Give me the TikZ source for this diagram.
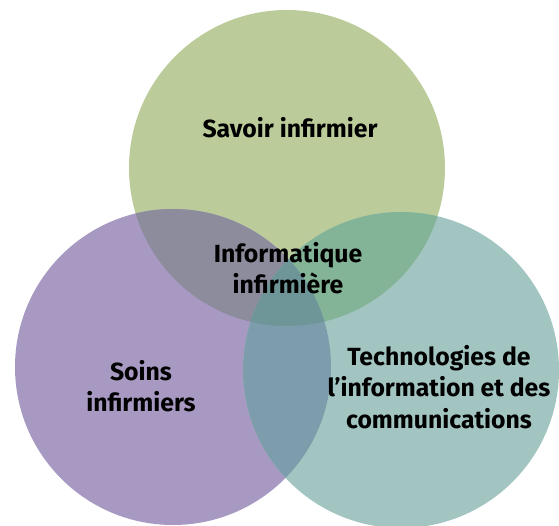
\documentclass[tikz,border=0pt]{standalone}
\usepackage{fontspec}
\setmainfont{Fira Sans}
\usepackage{xcolor}
\usepackage{tikz}
\usetikzlibrary{calc}

\definecolor{savoir}{HTML}{BBCC9A}
\definecolor{soins}{HTML}{A899C3}
\definecolor{tic}{HTML}{A2C5C1}
\definecolor{savoirsoins}{HTML}{8C8C9D}
\definecolor{savoirtic}{HTML}{84B498}
\definecolor{soinstic}{HTML}{7D9DAD}
\definecolor{centre}{HTML}{6E9598}

\begin{document}
\begin{tikzpicture}[x=1pt, y=1pt,
    label/.style = {align=center, font=\bfseries\fontsize{24.8}{31.5}\selectfont, inner sep=0pt}]
            \useasboundingbox (0,0) rectangle (559,525);
            \def\rayon{158}
            \coordinate (s) at (287,357);
            \coordinate (p) at (173,158);
            \coordinate (t) at (401,155);
            \fill[savoir] (s) circle (\rayon);
            \fill[soins] (p) circle (\rayon);
            \fill[tic] (t) circle (\rayon);
            \begin{scope}
              \clip (s) circle (\rayon);
              \fill[savoirsoins] (p) circle (\rayon);
              \fill[savoirtic] (t) circle (\rayon);
            \end{scope}
            \begin{scope}
              \clip (p) circle (\rayon);
              \fill[soinstic] (t) circle (\rayon);
              \clip (s) circle (\rayon);
              \fill[centre] (t) circle (\rayon);
            \end{scope}
            \node[label] (savoirtxt) at (290,397) {Savoir infirmier};
            \node[label] (infotxt) at (288,257) {Informatique\\infirmière};
            \node[label] (soinstxt) at (141,139) {Soins\\infirmiers};
            \node[label] (tictxt) at (439,138) {Technologies de\\l’information et des\\communications};
          \end{tikzpicture}
\end{document}
